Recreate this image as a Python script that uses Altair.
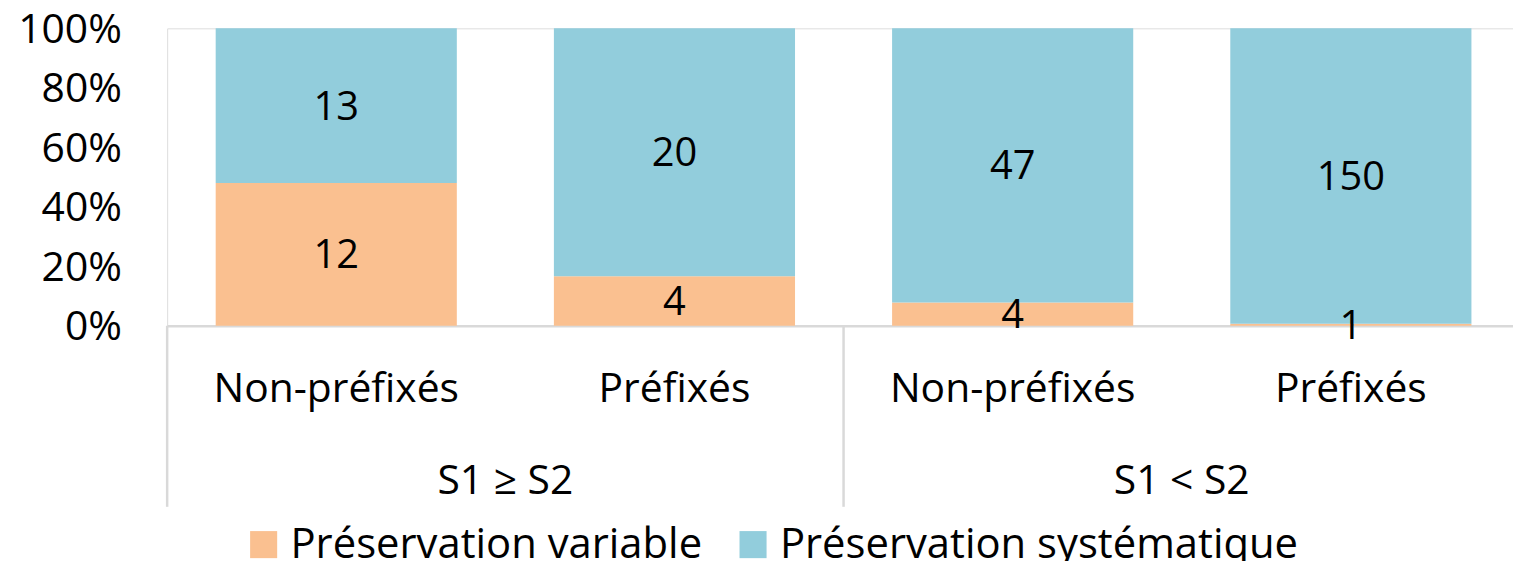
import altair as alt
import pandas as pd

groups = ["S1 ≥ S2", "S1 ≥ S2", "S1 < S2", "S1 < S2"]
cats = ["Non-préfixés", "Préfixés", "Non-préfixés", "Préfixés"]
series = ["Préservation variable", "Préservation systématique"]
variable = [12, 4, 4, 1]
systematique = [13, 20, 47, 150]
colors = ["#FAC090", "#92CDDC"]
y_ticks = [0, 0.2, 0.4, 0.6, 0.8, 1.0]

keys = [f"{i}|{c}" for i, c in enumerate(cats)]
rows = []
for k, g, c, v, s in zip(keys, groups, cats, variable, systematique):
    rows.append({"key": k, "group": g, "cat": c, "series": series[0], "order": 0, "count": v})
    rows.append({"key": k, "group": g, "cat": c, "series": series[1], "order": 1, "count": s})
df = pd.DataFrame(rows)

gl = pd.DataFrame({
    "group": ["S1 ≥ S2", "S1 < S2"],
    "mid_key": [keys[1], keys[3]],
    "start_key": [keys[0], keys[2]],
})

W, H = 1360, 299
FONT = "Open Sans"

xscale = alt.Scale(domain=keys, paddingInner=0, paddingOuter=0)

base = alt.Chart(df).transform_stack(
    stack="count", groupby=["key"], as_=["y0", "y1"], offset="normalize",
    sort=[alt.SortField("order", order="ascending")]
)

bars = base.mark_bar(width=alt.RelativeBandSize(0.713)).encode(
    x=alt.X("key:N", scale=xscale, sort=keys, title=None,
            axis=alt.Axis(labelExpr="split(datum.label, '|')[1]", labelAngle=0,
                          labelFontSize=41, labelFont=FONT, labelColor="black",
                          labelPadding=44, ticks=False, domainColor="#d9d9d9",
                          domainWidth=2.5, grid=False, labelLimit=400)),
    y=alt.Y("y0:Q", scale=alt.Scale(domain=[0, 1]), title=None,
            axis=alt.Axis(format="%", values=y_ticks, labelFontSize=41, labelFont=FONT,
                          labelColor="black", labelPadding=46, ticks=False,
                          labelOffset=2, domain=False, grid=False)),
    y2="y1:Q",
    color=alt.Color("series:N", sort=series,
                    scale=alt.Scale(domain=series, range=colors),
                    legend=alt.Legend(title=None, orient="none", direction="horizontal",
                                      legendX=76, legendY=498, labelFontSize=42,
                                      labelFont=FONT, labelColor="black",
                                      symbolType="square", symbolSize=740,
                                      symbolStrokeWidth=0, labelOffset=6,
                                      columnPadding=30, labelLimit=600)),
)

labels = base.transform_calculate(mid="(datum.y0 + datum.y1) / 2").mark_text(
    fontSize=40, font=FONT, color="black", baseline="middle", dy=2
).encode(
    x=alt.X("key:N", scale=xscale, sort=keys),
    y=alt.Y("mid:Q", scale=alt.Scale(domain=[0, 1])),
    text="count:Q",
)

seps = alt.Chart(gl).mark_rule(color="#d9d9d9", strokeWidth=2.5).encode(
    x=alt.X("start_key:N", scale=xscale, sort=keys, bandPosition=0),
    y=alt.value(H),
    y2=alt.value(H + 182),
)

glabels = alt.Chart(gl).mark_text(fontSize=41, font=FONT, color="black", baseline="middle").encode(
    x=alt.X("mid_key:N", scale=xscale, sort=keys, bandPosition=0),
    y=alt.value(H + 157),
    text="group:N",
)

chart = alt.layer(bars, labels, seps, glabels).properties(
    width=W, height=H,
    autosize=alt.AutoSizeParams(type="none"),
    padding={"left": 160, "top": 19, "right": -7, "bottom": 235},
).configure_view(stroke=None).configure(background="white")

chart.save("out.html", embed_options={"renderer": "svg", "actions": False})
